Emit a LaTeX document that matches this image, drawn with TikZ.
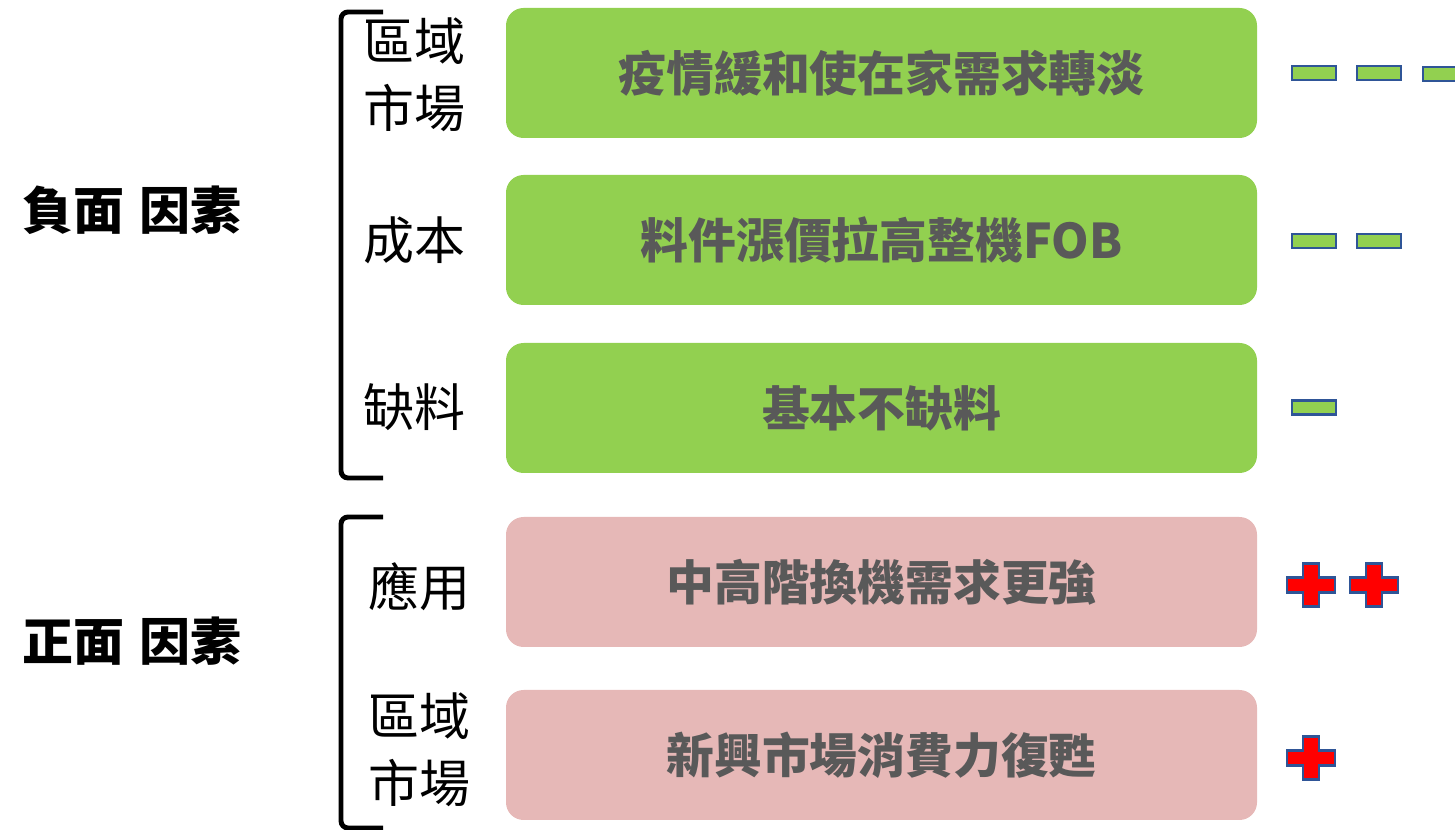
\documentclass[tikz,border=0pt]{standalone}
\usepackage{fontspec}
\newfontfamily\cjk{Noto Sans CJK TC}
\usepackage{tikz}
\usetikzlibrary{calc}

\definecolor{boxgreen}{HTML}{92D050}
\definecolor{boxpink}{HTML}{E6B8B7}
\definecolor{txtgray}{HTML}{595959}
\definecolor{signblue}{HTML}{2F5597}

\tikzset{
	factor/.style={rounded corners=10pt,minimum width=15.02cm,minimum height=2.6cm,text=txtgray,font=\cjk\bfseries\fontsize{27.2}{32}\selectfont},
	negbox/.style={factor,fill=boxgreen},
	posbox/.style={factor,fill=boxpink},
	side/.style={font=\cjk\fontsize{29}{36}\selectfont,align=center},
	group/.style={font=\cjk\bfseries\fontsize{29}{34}\selectfont},
	brace/.style={line width=2.8pt,rounded corners=4pt},
	minus/.style={draw=signblue,line width=1.6pt,fill=boxgreen,minimum width=0.88cm,minimum height=0.28cm,inner sep=0pt}
}

\newcommand{\plussign}[1]{%
	\filldraw[draw=signblue,line width=1.4pt,fill=red]
	($(#1)+(-0.16,-0.43)$) -- ++(0.32,0) -- ++(0,0.28) -- ++(0.32,0) -- ++(0,0.3) -- ++(-0.32,0)
	-- ++(0,0.28) -- ++(-0.32,0) -- ++(0,-0.28) -- ++(-0.32,0) -- ++(0,-0.3) -- ++(0.32,0) -- cycle;}

\begin{document}
\begin{tikzpicture}
		\useasboundingbox (0,0) rectangle (29.1,16.6);
		\clip (0,0) rectangle (29.1,16.6);
		
		% factor boxes
		\node[negbox](n1)at(17.63,15.14) {疫情緩和使在家需求轉淡};
		\node[negbox](n2)at(17.63,11.8) {料件漲價拉高整機FOB};
		\node[negbox](n3)at(17.63,8.44) {基本不缺料};
		\node[posbox](p1)at(17.63,4.96) {中高階換機需求更強};
		\node[posbox](p2)at(17.63,1.5) {新興市場消費力復甦};
		
		% groups
		\node[group](neg)at(2.64,12.4) {負面\hspace{0.3em}因素};
		\node[group](pos)at(2.64,3.78) {正面\hspace{0.3em}因素};
		
		\node[side](s1)at(8.28,15.1) {區域\\[2pt]市場};
		\node[side](s2)at(8.28,11.8) {成本};
		\node[side](s3)at(8.28,8.46) {缺料};
		\node[side](s4)at(8.38,4.86) {應用};
		\node[side](s5)at(8.38,1.6) {區域\\[2pt]市場};
		
		\coordinate (b1)at(7.66,16.36);
		\coordinate (b2)at(7.66,7.04);
		\coordinate (b3)at(7.66,6.26);
		\coordinate (b4)at(7.66,0.04);
		\draw[brace](b1) -| (6.82,11.6) |- (b2);
		\draw[brace](b3) -| (6.82,3.1) |- (b4);
		
		% signs
		\node[minus](m11)at(26.28,15.14) {};
		\node[minus](m12)at(27.58,15.14) {};
		\node[minus](m13)at(28.9,15.12) {};
		\node[minus](m21)at(26.28,11.78) {};
		\node[minus](m22)at(27.58,11.78) {};
		\node[minus](m31)at(26.28,8.45) {};
		
		\coordinate (q11)at(26.22,4.9);
		\coordinate (q12)at(27.48,4.9);
		\coordinate (q21)at(26.22,1.44);
		\plussign{q11}
		\plussign{q12}
		\plussign{q21}
	\end{tikzpicture}
\end{document}
